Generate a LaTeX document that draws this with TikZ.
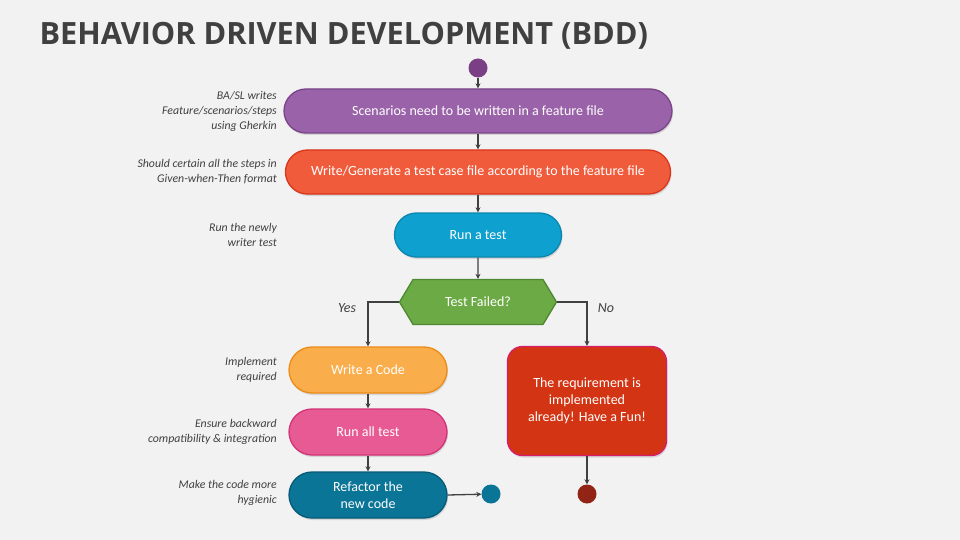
\documentclass[tikz,border=0pt]{standalone}
\usepackage{fontspec}
\setmainfont{Carlito}
\newfontfamily\titlefont{Open Sans}
\usepackage{tikz}
\usetikzlibrary{positioning,shapes.symbols,arrows.meta,shadows}

\definecolor{bgcol}{HTML}{F2F2F2}
\definecolor{titlecol}{HTML}{404040}
\definecolor{notecol}{HTML}{404040}
\definecolor{linecol}{HTML}{404040}
\definecolor{purplefill}{HTML}{9A62A8}
\definecolor{purpleline}{HTML}{7A4588}
\definecolor{startcol}{HTML}{7B3F86}
\definecolor{orangefill}{HTML}{F05B3B}
\definecolor{orangeline}{HTML}{D9361C}
\definecolor{bluefill}{HTML}{0EA0CF}
\definecolor{blueline}{HTML}{0B86AE}
\definecolor{greenfill}{HTML}{6CAA45}
\definecolor{greenline}{HTML}{4E8832}
\definecolor{yellowfill}{HTML}{F9AE4B}
\definecolor{yellowline}{HTML}{EC8C17}
\definecolor{pinkfill}{HTML}{E85A94}
\definecolor{pinkline}{HTML}{D23377}
\definecolor{tealfill}{HTML}{0B7598}
\definecolor{tealline}{HTML}{075A76}
\definecolor{redfill}{HTML}{D33413}
\definecolor{redline}{HTML}{D41E6C}
\definecolor{endcol}{HTML}{912414}

\begin{document}
\begin{tikzpicture}[x=1pt, y=-1pt]
        \tikzstyle{every node}=[font=\fontsize{14}{17}\selectfont]
        \tikzstyle{pill}=[rounded corners=22pt, line width=1.3pt, text=white, minimum height=44pt, align=center,
            drop shadow={shadow xshift=1pt, shadow yshift=-2pt, opacity=0.25}]
        \tikzstyle{note}=[anchor=east, align=right, inner sep=0pt, text=notecol,
            font=\fontsize{11.8}{15}\selectfont\itshape]
        \tikzstyle{dot}=[circle, minimum size=19pt, inner sep=0pt]
        \tikzstyle{flow}=[draw=linecol, line width=1.3pt, -{Stealth[length=5pt, width=5pt]}]

        \fill[bgcol] (0,0) rectangle (960,540);
        \useasboundingbox (0,0) rectangle (960,540);

        \node (title) [anchor=west, text=titlecol, font=\titlefont\bfseries\fontsize{30.7}{36}\selectfont]
            at (36,36) {BEHAVIOR DRIVEN DEVELOPMENT (BDD)};

        \node (start) [dot, fill=startcol] at (478,68) {};

        \node (scen)  [pill, fill=purplefill, draw=purpleline, minimum width=388pt] at (478,111)
            {Scenarios need to be written in a feature file};
        \node (gen)   [pill, fill=orangefill, draw=orangeline, minimum width=385pt] at (478,172)
            {Write/Generate a test case file according to the feature file};
        \node (run)   [pill, fill=bluefill, draw=blueline, minimum width=167pt] at (478,235) {Run a test};
        \node (fail)  [signal, signal to=west and east, signal pointer angle=118, fill=greenfill, draw=greenline,
            line width=1.3pt, text=white, minimum width=157pt, minimum height=45pt] at (478,302) {Test Failed?};

        \node (code)  [pill, fill=yellowfill, draw=yellowline, minimum width=158pt, minimum height=46pt,
            rounded corners=23pt] at (368,370) {Write a Code};
        \node (all)   [pill, fill=pinkfill, draw=pinkline, minimum width=158pt, minimum height=46pt,
            rounded corners=23pt] at (368,432) {Run all test};
        \node (refac) [pill, fill=tealfill, draw=tealline, minimum width=158pt, minimum height=46pt,
            rounded corners=23pt, font=\fontsize{14}{17}\selectfont] at (368,495) {Refactor the\\new code};
        \node (done)  [pill, fill=redfill, draw=redline, minimum width=159pt, minimum height=109pt,
            rounded corners=15pt, font=\fontsize{14}{17}\selectfont] at (587,401)
            {The requirement is\\implemented\\already! Have a Fun!};

        \node (endl) [dot, fill=tealfill] at (491,494) {};
        \node (endr) [dot, fill=endcol] at (587,494) {};

        % side notes
        \node (n1) [note] at (277,111) {BA/SL writes\\Feature/scenarios/steps\\using Gherkin};
        \node (n2) [note] at (277,172) {Should certain all the steps in\\Given-when-Then format};
        \node (n3) [note] at (277,235) {Run the newly\\writer test};
        \node (n4) [note] at (277,370) {Implement\\required};
        \node (n5) [note] at (277,432) {Ensure backward\\compatibility \& integration};
        \node (n6) [note] at (277,493) {Make the code more\\hygienic};

        \node (yes) [text=notecol, font=\fontsize{14}{17}\selectfont\itshape] at (347,308) {Yes};
        \node (no)  [text=notecol, font=\fontsize{14}{17}\selectfont\itshape] at (606,308) {No};

        \draw[flow] (start) -- (scen);
        \draw[flow] (scen) -- (gen);
        \draw[flow] (gen) -- (run);
        \draw[flow] (run) -- (fail);
        \draw[flow] (fail.west) -| (code.north);
        \draw[flow] (fail.east) -| (done.north);
        \draw[flow] (code) -- (all);
        \draw[flow] (all) -- (refac);
        \draw[flow] (refac.east) -- (endl);
        \draw[flow] (done) -- (endr);

    \end{tikzpicture}
\end{document}
